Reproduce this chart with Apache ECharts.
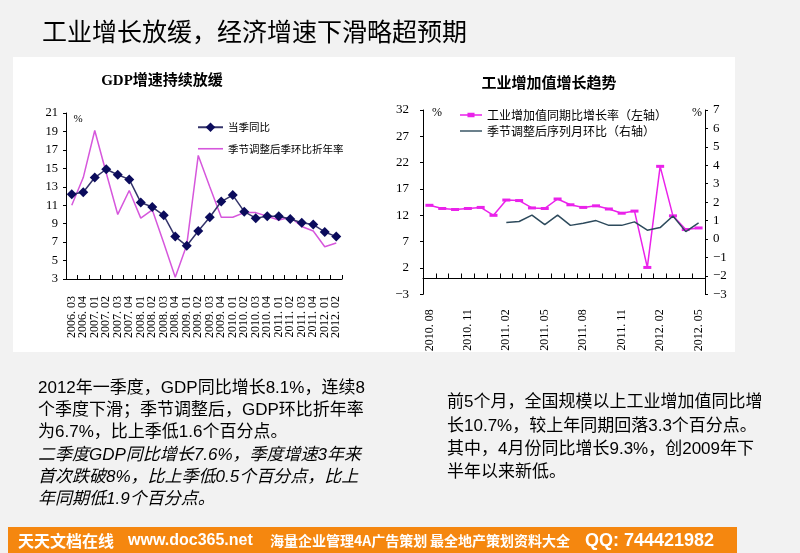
<!DOCTYPE html>
<html><head><meta charset="utf-8">
<script src="https://cdn.jsdelivr.net/npm/echarts@6/dist/echarts.min.js"></script>
<style>html,body{margin:0;padding:0;background:#f2f2f2}#c{width:800px;height:553px}</style>
</head><body><div id="c"></div>
<script>
// ---------- data ----------
const gdpQuarters = ['2006.03','2006.04','2007.01','2007.02','2007.03','2007.04','2008.01','2008.02','2008.03','2008.04','2009.01','2009.02','2009.03','2009.04','2010.01','2010.02','2010.03','2010.04','2011.01','2011.02','2011.03','2011.04','2012.01','2012.02'];
const gdpYoY  = [12.2,12.4,14.0,14.9,14.3,13.8,11.3,10.8,9.9,7.6,6.6,8.2,9.7,11.4,12.1,10.3,9.6,9.8,9.8,9.5,9.1,8.9,8.1,7.6];
const gdpSAAR = [11.0,14.0,19.1,14.5,10.0,12.6,9.6,10.5,6.9,3.2,6.7,16.4,13.0,9.7,9.7,10.2,10.2,9.8,9.4,9.7,8.7,8.2,6.5,6.9];
const gdpAxis = {min: 3, max: 21, interval: 2};

const ipMonths = ['2010.08','2010.09','2010.10','2010.11','2010.12','2011.01','2011.02','2011.03','2011.04','2011.05','2011.06','2011.07','2011.08','2011.09','2011.10','2011.11','2011.12','2012.01','2012.02','2012.03','2012.04','2012.05'];
const ipYoY = [13.9,13.3,13.1,13.3,13.5,12.0,14.9,14.8,13.4,13.3,15.1,14.0,13.5,13.8,13.2,12.4,12.8,2.1,21.3,11.9,9.3,9.6];
const ipMoM = [null,null,null,null,null,null,0.90,0.95,1.30,0.78,1.30,0.74,0.85,1.00,0.74,0.74,0.93,0.48,0.62,1.25,0.40,0.87];
const ipLeftAxis = {min: -3, max: 32, interval: 5};
const ipRightAxis = {min: -3, max: 7, interval: 1};

const seriesNames = ['当季同比','季节调整后季环比折年率','工业增加值同期比增长率（左轴）','季节调整后序列月环比（右轴）'];
const mainTitle = '工业增长放缓，经济增速下滑略超预期';
const chartTitles = ['GDP增速持续放缓','工业增加值增长趋势'];
const leftNote = ['2012年一季度，GDP同比增长8.1%，连续8','个季度下滑；季节调整后，GDP环比折年率','为6.7%，比上季低1.6个百分点。'];
const leftNoteItalic = ['二季度GDP同比增长7.6%，季度增速3年来','首次跌破8%，比上季低0.5个百分点，比上','年同期低1.9个百分点。'];
const rightNote = ['前5个月，全国规模以上工业增加值同比增','长10.7%，较上年同期回落3.3个百分点。','其中，4月份同比增长9.3%，创2009年下','半年以来新低。'];
const footerParts = ['天天文档在线','www.doc365.net','海量企业管理4A广告策划','最全地产策划资料大全','QQ: 744421982'];

// ---------- styles ----------
const SERIF = "'Liberation Serif','DejaVu Serif','Noto Sans CJK SC',serif";
const CJK = "'Noto Sans CJK SC',sans-serif";
const SANS = "'Liberation Sans','Noto Sans CJK SC',sans-serif";
const fmtDate = v => v.replace('.', '. ');
const fmtMinus = v => String(v).replace('-', '−');
const ICON_LINE = 'path://M0,0h25v1.6h-25z';
const ICON_DASH_MARK = 'path://M0,1.7h8.5v1.6h-8.5z M8.5,0h8v5h-8z M16.5,1.7h8.5v1.6h-8.5z';

const graphic = [
  {type:'rect', shape:{x:13,y:57,width:722,height:295}, style:{fill:'#ffffff'}, z:-10},
  {type:'rect', shape:{x:8,y:527,width:729,height:26}, style:{fill:'#f5870f'}, z:-10},
  {type:'text', left:42, top:19, style:{text:mainTitle, font:"25px "+CJK, fill:'#000'}},
  {type:'text', x:162, y:81, style:{text:chartTitles[0], font:"bold 15px "+SERIF, fill:'#000', textAlign:'center', textVerticalAlign:'middle'}},
  {type:'text', x:549, y:82, style:{text:chartTitles[1], font:"bold 15px "+CJK, fill:'#000', textAlign:'center', textVerticalAlign:'middle'}},
  {type:'text', x:78, y:119, style:{text:'%', font:"11px "+SERIF, fill:'#000', textAlign:'center', textVerticalAlign:'middle'}},
  {type:'text', x:437, y:113, style:{text:'%', font:"12px "+SERIF, fill:'#000', textAlign:'center', textVerticalAlign:'middle'}},
  {type:'text', x:697, y:113, style:{text:'%', font:"12px "+SERIF, fill:'#000', textAlign:'center', textVerticalAlign:'middle'}}
];
const leftYs = [388,410,432,455,477,499];
leftNote.concat(leftNoteItalic).forEach((t,i)=>{
  graphic.push({type:'text', x:38, y:leftYs[i], style:{text:t, font:(i>=3?'italic ':'')+"17px "+SANS, fill:'#000', textVerticalAlign:'middle'}});
});
const rightYs = [402,426,449,472];
rightNote.forEach((t,i)=>{
  graphic.push({type:'text', x:447, y:rightYs[i], style:{text:t, font:"17px "+SANS, fill:'#000', textVerticalAlign:'middle'}});
});
const footX = [18,128,270,430,585];
const footF = ["bold 16px "+CJK,"bold 16px "+SANS,"bold 14px "+CJK,"bold 14px "+CJK,"bold 18px "+SANS];
footerParts.forEach((t,i)=>{
  graphic.push({type:'text', x:footX[i], y:541, style:{text:t, font:footF[i], fill:'#fff', textVerticalAlign:'middle'}});
});

const axisLineBlack = {show:true, lineStyle:{color:'#000', width:1}};

const option = {
  backgroundColor:'#f2f2f2',
  animation:false,
  graphic: graphic,
  grid:[
    {left:66, top:113, width:276, height:166},
    {left:423, top:110, width:282, height:184.3}
  ],
  legend:[
    {data:[{name:seriesNames[0]},{name:seriesNames[1], icon:ICON_LINE}], orient:'vertical', left:192, top:117, itemWidth:25, itemHeight:12, itemGap:11,
     textStyle:{fontSize:10.5, fontFamily:CJK, color:'#000'}, selectedMode:false},
    {data:[{name:seriesNames[2], icon:ICON_DASH_MARK},{name:seriesNames[3], icon:ICON_LINE}], orient:'vertical', left:455, top:104, itemWidth:22, itemHeight:12, itemGap:4,
     textStyle:{fontSize:12, fontFamily:CJK, color:'#000'}, selectedMode:false}
  ],
  xAxis:[
    {type:'category', gridIndex:0, data:gdpQuarters, boundaryGap:true,
     axisLine:Object.assign({onZero:false}, axisLineBlack),
     axisTick:{show:true, inside:true, length:4, lineStyle:{color:'#000'}},
     axisLabel:{rotate:90, margin:17, fontSize:12, fontFamily:SERIF, color:'#000', interval:0, formatter:fmtDate},
     splitLine:{show:false}},
    {type:'category', gridIndex:1, data:ipMonths, boundaryGap:true,
     axisLine:Object.assign({onZero:true, onZeroAxisIndex:1}, axisLineBlack),
     axisTick:{show:true, inside:true, length:5, interval:0, lineStyle:{color:'#000'}},
     axisLabel:{rotate:90, margin:15, fontSize:12, fontFamily:SERIF, color:'#000', interval:2, formatter:fmtDate},
     splitLine:{show:false}}
  ],
  yAxis:[
    {type:'value', gridIndex:0, min:gdpAxis.min, max:gdpAxis.max, interval:gdpAxis.interval,
     axisLine:axisLineBlack, axisTick:{show:true, length:3, lineStyle:{color:'#000'}},
     axisLabel:{fontSize:12.5, fontFamily:SERIF, color:'#000', margin:8}, splitLine:{show:false}},
    {type:'value', gridIndex:1, position:'left', min:ipLeftAxis.min, max:ipLeftAxis.max, interval:ipLeftAxis.interval,
     axisLine:axisLineBlack, axisTick:{show:true, length:3, lineStyle:{color:'#000'}},
     axisLabel:{fontSize:13, fontFamily:SERIF, color:'#000', margin:14, formatter:fmtMinus}, splitLine:{show:false}},
    {type:'value', gridIndex:1, position:'right', min:ipRightAxis.min, max:ipRightAxis.max, interval:ipRightAxis.interval,
     axisLine:axisLineBlack, axisTick:{show:true, length:3, lineStyle:{color:'#000'}},
     axisLabel:{fontSize:13, fontFamily:SERIF, color:'#000', margin:8, formatter:fmtMinus}, splitLine:{show:false}}
  ],
  series:[
    {name:seriesNames[0], type:'line', xAxisIndex:0, yAxisIndex:0, data:gdpYoY,
     symbol:'diamond', symbolSize:10, itemStyle:{color:'#0b0b5c'}, lineStyle:{color:'#34346a', width:1.5}, z:3},
    {name:seriesNames[1], type:'line', xAxisIndex:0, yAxisIndex:0, data:gdpSAAR,
     symbol:'none', itemStyle:{color:'#d657dc'}, lineStyle:{color:'#d657dc', width:1.5}, z:2},
    {name:seriesNames[2], type:'line', xAxisIndex:1, yAxisIndex:1, data:ipYoY,
     symbol:'rect', symbolSize:[8,3], itemStyle:{color:'#ea22ea'}, lineStyle:{color:'#ea22ea', width:1.5}, z:2},
    {name:seriesNames[3], type:'line', xAxisIndex:1, yAxisIndex:2, data:ipMoM,
     symbol:'none', connectNulls:false, itemStyle:{color:'#2d4a5c'}, lineStyle:{color:'#2d4a5c', width:1.5}, z:3}
  ]
};
const chart = echarts.init(document.getElementById('c'), null, {renderer:'canvas'});
chart.setOption(option);
</script>
</body></html>
